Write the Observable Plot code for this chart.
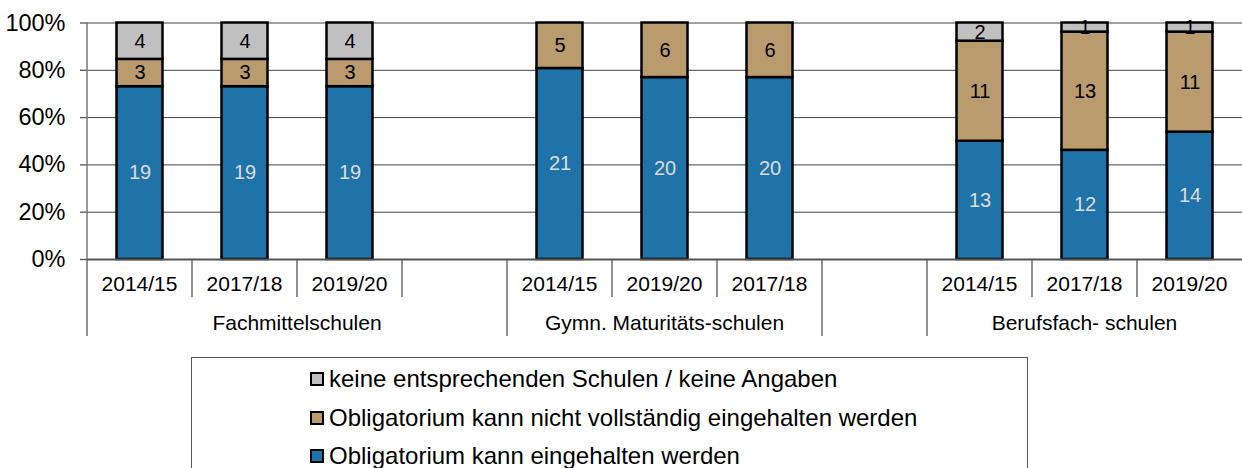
<!DOCTYPE html>
<html>
<head>
<meta charset="utf-8">
<script src="https://cdn.jsdelivr.net/npm/d3@7"></script>
<script src="https://cdn.jsdelivr.net/npm/@observablehq/plot@0.6"></script>
<style>
  html, body { margin: 0; padding: 0; background: #fff; }
  body { width: 1242px; height: 468px; overflow: hidden; position: relative; font-family: "Liberation Sans", Arial, sans-serif; }
  #legend { position: absolute; left: 191px; top: 357px; width: 837px; height: 130px; border: 1.5px solid #555; box-sizing: border-box; background: #fff; }
  .entry { position: absolute; left: 118px; height: 30px; display: flex; align-items: center; font-size: 24px; color: #000; white-space: nowrap; }
  .sw { width: 10px; height: 10px; border: 2px solid #000; margin-right: 5px; }
</style>
</head>
<body>
<div id="chart"></div>
<div id="legend"></div>
<script>
// ---- data ----
const seriesNames = [
  "Obligatorium kann eingehalten werden",
  "Obligatorium kann nicht vollständig eingehalten werden",
  "keine entsprechenden Schulen / keine Angaben"
];
const seriesColors = ["#1f73a9", "#b99b6e", "#c0c0c0"];

// category slots (group, year); empty year = empty slot
const slotGroups = [
  "Fachmittelschulen", "Fachmittelschulen", "Fachmittelschulen", "Fachmittelschulen",
  "Gymn. Maturitäts-schulen", "Gymn. Maturitäts-schulen", "Gymn. Maturitäts-schulen",
  "",
  "Berufsfach- schulen", "Berufsfach- schulen", "Berufsfach- schulen"
];
const slotYears = [
  "2014/15", "2017/18", "2019/20", "",
  "2014/15", "2019/20", "2017/18",
  "",
  "2014/15", "2017/18", "2019/20"
];
// values per slot (null = empty slot)
const eingehalten       = [19, 19, 19, null, 21, 20, 20, null, 13, 12, 14];
const nichtVollstaendig = [3, 3, 3, null, 5, 6, 6, null, 11, 13, 11];
const keineAngaben      = [4, 4, 4, null, 0, 0, 0, null, 2, 1, 1];
const yTicks = [0, 0.2, 0.4, 0.6, 0.8, 1];

// ---- build table ----
const slotKeys = slotYears.map((_, i) => "s" + i);
const seriesValues = [eingehalten, nichtVollstaendig, keineAngaben];
const data = [];
slotKeys.forEach((key, i) => {
  seriesValues.forEach((vals, s) => {
    const v = vals[i];
    if (v != null && v > 0) data.push({key, series: seriesNames[s], value: v});
  });
});

const font = "'Liberation Sans', Arial, sans-serif";

function categoryAxis(index, scales, values, dimensions) {
  const x = scales.x;
  const bw = typeof x.bandwidth === "function" ? x.bandwidth() : (x(slotKeys[1]) - x(slotKeys[0]));
  const y0 = dimensions.height - dimensions.marginBottom;
  const yTop = dimensions.marginTop;
  const g = d3.create("svg:g").attr("font-family", font).attr("fill", "#000");
  // y axis line
  g.append("line").attr("x1", x(slotKeys[0])).attr("x2", x(slotKeys[0]))
    .attr("y1", yTop).attr("y2", y0).attr("stroke", "#777").attr("stroke-width", 1.5);
  // separators
  slotKeys.forEach((key, i) => {
    const xs = x(key);
    const isLong = i === 0 || slotGroups[i] !== slotGroups[i - 1];
    g.append("line").attr("x1", xs).attr("x2", xs)
      .attr("y1", y0).attr("y2", y0 + (isLong ? 77 : 38))
      .attr("stroke", "#555").attr("stroke-width", 1.3);
  });
  // year labels
  slotKeys.forEach((key, i) => {
    if (!slotYears[i]) return;
    g.append("text").attr("x", x(key) + bw / 2).attr("y", y0 + 24).attr("dy", "0.36em")
      .attr("text-anchor", "middle").attr("font-size", 21).text(slotYears[i]);
  });
  // group labels
  const groups = [...new Set(slotGroups)].filter(d => d);
  groups.forEach(name => {
    const idx = slotGroups.map((g, i) => g === name ? i : -1).filter(i => i >= 0);
    const a = x(slotKeys[idx[0]]);
    const b = x(slotKeys[idx[idx.length - 1]]) + bw;
    g.append("text").attr("x", (a + b) / 2).attr("y", y0 + 63).attr("dy", "0.36em")
      .attr("text-anchor", "middle").attr("font-size", 21).text(name);
  });
  return g.node();
}

const stackOpts = {x: "key", y: "value", z: "series", order: seriesNames, offset: "normalize"};

const chart = Plot.plot({
  width: 1242,
  height: 345,
  marginLeft: 87,
  marginRight: 0,
  marginTop: 22.5,
  marginBottom: 86,
  style: {fontFamily: font, fontSize: "21px", background: "transparent", color: "#000", overflow: "visible"},
  x: {domain: slotKeys, padding: 0, axis: null},
  y: {domain: [0, 1], axis: null, label: null},
  color: {domain: seriesNames, range: seriesColors},
  marks: [
    Plot.gridY(yTicks, {stroke: "#444", strokeOpacity: 1, strokeWidth: 1}),
    Plot.barY(data, {...stackOpts, fill: "series", stroke: "#000", strokeWidth: 2.5, insetLeft: 29.5, insetRight: 29.5}),
    Plot.ruleY([0], {stroke: "#555", strokeWidth: 2}),
    Plot.text(data, Plot.stackY({...stackOpts, text: d => d.series === seriesNames[0] ? String(d.value) : "", fill: "#dcdcdc", fontSize: 20})),
    Plot.text(data, Plot.stackY({...stackOpts, text: d => d.series !== seriesNames[0] ? String(d.value) : "", fill: "#000", fontSize: 20})),
    Plot.axisY(yTicks, {tickFormat: d3.format(".0%"), tickSize: 7, tickPadding: 15, fontSize: 23.5, stroke: "#555", strokeWidth: 1.3, label: null}),
    categoryAxis
  ]
});
document.getElementById("chart").appendChild(chart);

// ---- legend ----
const legend = document.getElementById("legend");
const legendOrder = [2, 1, 0];
const rowCenters = [21, 60, 98];
legendOrder.forEach((s, r) => {
  const e = document.createElement("div");
  e.className = "entry";
  e.style.top = (rowCenters[r] - 15) + "px";
  const sw = document.createElement("span");
  sw.className = "sw";
  sw.style.background = seriesColors[s];
  const t = document.createElement("span");
  t.textContent = seriesNames[s];
  e.appendChild(sw);
  e.appendChild(t);
  legend.appendChild(e);
});
</script>
</body>
</html>
